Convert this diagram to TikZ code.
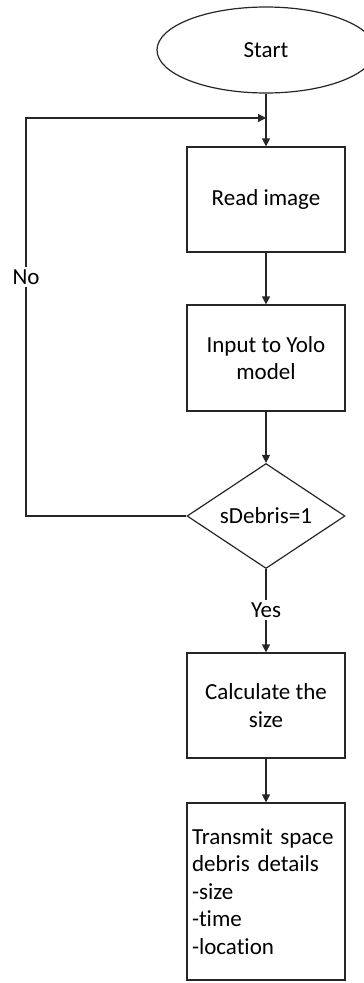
\documentclass[tikz,border=0pt]{standalone}
\usepackage{fontspec}
\setmainfont[Ligatures=NoCommon]{Carlito}
\usetikzlibrary{shapes.geometric,arrows.meta}

\tikzset{
  flowline/.style={line width=1.2pt, draw=black!85},
  arrowline/.style={flowline, -{Triangle[length=8pt,width=8pt]}},
  flowfont/.style={font=\fontsize{23}{27.5}\selectfont},
  procbox/.style={rectangle, flowline, flowfont, minimum width=158pt, minimum height=105pt,
    inner sep=0pt, align=center},
  startnode/.style={ellipse, flowline, flowfont, minimum width=218pt, minimum height=86pt,
    inner sep=0pt},
  decision/.style={diamond, aspect=1.5, flowline, flowfont, minimum width=158pt,
    minimum height=105pt, inner sep=0pt},
  edgelabel/.style={fill=white, flowfont, inner xsep=1pt, inner ysep=3pt},
}

\begin{document}
\begin{tikzpicture}[x=1pt,y=1pt]
  \useasboundingbox (0,0) rectangle (364,-983);
  \clip (0,0) rectangle (364,-983);

  % main column of steps
  \node[startnode] (start) at (266,-50) {Start};
  \node[procbox] (read) at (266,-199.5) {Read image};
  \node[procbox, minimum height=106pt] (yolo) at (266,-358) {Input to Yolo\\model};
  \node[decision] (dec) at (266,-516) {sDebris=1};
  \node[procbox] (calc) at (266,-705.5) {Calculate the\\size};
  \node[procbox, minimum height=177pt, text width=148pt, align=left] (send) at (266,-891.5)
    {Transmit space\\debris details\\-size\\-time\\-location};

  % loop-back corners and merge point
  \coordinate (merge) at (266,-118);
  \coordinate (lowleft) at (26,-516);
  \coordinate (upleft) at (26,-118);

  % connectors
  \draw[arrowline] (start) -- (read);
  \draw[arrowline] (read) -- (yolo);
  \draw[arrowline] (yolo) -- (dec);
  \draw[arrowline] (dec) -- (calc);
  \draw[arrowline] (calc) -- (send);
  \draw[arrowline] (dec.west) -- (lowleft) -- (upleft) -- (merge);

  % branch labels
  \node[edgelabel] (no) at (26,-277) {No};
  \node[edgelabel] (yes) at (266,-610) {Yes};
\end{tikzpicture}
\end{document}
